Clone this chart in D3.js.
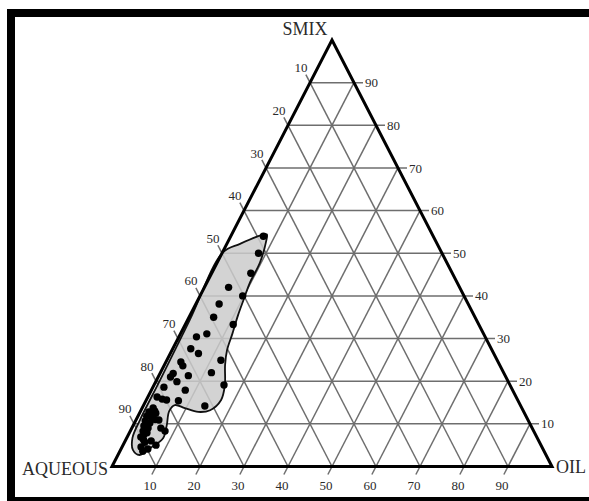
<!DOCTYPE html>
<html>
<head>
<meta charset="utf-8">
<script src="https://cdn.jsdelivr.net/npm/d3@7"></script>
<style>
  html, body { margin: 0; padding: 0; background: #fff; }
  text { font-family: "Liberation Serif", "Times New Roman", serif; }
</style>
</head>
<body>
<div id="chart"></div>
<script>
// ternary axis ticks (percent)
const ticks = [10, 20, 30, 40, 50, 60, 70, 80, 90];

// measured points: SMIX % and OIL %, aqueous is the rest
const pointSmix = [54.0, 50.0, 45.3, 42.0, 40.0, 38.1, 35.0, 33.3, 31.1, 30.4,
  27.6, 26.5, 24.9, 24.5, 23.6, 22.0, 21.8, 21.3, 21.0, 19.9,
  19.1, 18.6, 17.9, 16.3, 15.8, 15.6, 15.4, 14.2, 13.7, 12.8,
  12.5, 11.8, 11.4, 10.7, 10.2, 10.9, 9.5, 9.0, 8.3, 7.9,
  9.0, 8.3, 6.9, 6.0, 5.7, 4.6, 4.1, 5.0, 12.0, 10.0,
  8.6, 7.5, 6.3, 11.0, 13.0, 3.6];
const pointOil = [7.4, 8.3, 8.9, 5.5, 9.7, 5.3, 5.6, 10.9, 6.0, 4.0,
  4.1, 6.4, 12.3, 3.4, 4.3, 11.6, 3.0, 6.7, 2.8, 4.8,
  15.9, 2.5, 7.7, 2.1, 3.5, 4.6, 7.4, 14.0, 2.5, 2.0,
  3.7, 2.0, 3.4, 2.2, 3.5, 5.2, 2.5, 3.7, 2.9, 4.0,
  6.6, 7.9, 3.1, 5.9, 4.6, 4.3, 6.1, 7.5, 2.8, 2.6,
  3.3, 3.5, 4.0, 4.3, 3.2, 5.2];

// outline of the shaded region
const regionSmix = [50.2, 52.2, 54.3, 54.4, 52.9, 47.9, 43.0, 39.5, 35.5, 31.1,
  27.3, 23.8, 19.1, 15.6, 13.2, 12.8, 13.7, 14.4, 13.0, 9.7,
  6.7, 4.6, 2.7, 3.9, 6.7, 10.9, 20.3, 34.3];
const regionOil = [0.1, 3.0, 7.0, 8.0, 8.6, 9.7, 9.8, 10.3, 10.9, 11.8,
  12.5, 13.8, 16.1, 17.0, 15.7, 13.2, 9.7, 7.1, 6.5, 7.6,
  8.3, 6.8, 4.9, 2.8, 1.3, 0.9, 0.8, 0.5];

const W = 589, H = 501;
const left = 112, right = 552, base = 466.5, apex = 40;

const svg = d3.select("#chart").append("svg")
  .attr("width", W).attr("height", H);

// x from (oil + smix/2), y from smix
const x = d3.scaleLinear().domain([0, 100]).range([left, right]);
const y = d3.scaleLinear().domain([0, 100]).range([base, apex]);
const px = (s, o) => [x(o + s / 2), y(s)];

// frame
svg.append("rect").attr("x", 7).attr("y", 9).attr("width", W).attr("height", 8).attr("fill", "#000");
svg.append("rect").attr("x", 7).attr("y", 9).attr("width", 8).attr("height", H).attr("fill", "#000");
svg.append("rect").attr("x", 7).attr("y", 497).attr("width", W).attr("height", 8).attr("fill", "#000");

const gridColor = "#6e6e6e";
const tickLen = 9;
const grid = svg.append("g").attr("stroke", gridColor).attr("stroke-width", 1.5).attr("fill", "none");

// unit vectors for tick extensions
const dl = [x(50) - x(0), y(100) - y(0)];           // along left edge (up-right)
const nl = Math.hypot(dl[0], dl[1]);
const uL = [dl[0] / nl, dl[1] / nl];
const uR = [-uL[0], uL[1]];                          // along right edge (up-left)

ticks.forEach(t => {
  // constant SMIX: horizontal
  const a = px(t, 0), b = px(t, 100 - t);
  grid.append("line").attr("x1", a[0]).attr("y1", a[1]).attr("x2", b[0] + tickLen).attr("y2", b[1]);
  // constant OIL: parallel to left edge
  const c = px(0, t), d = px(100 - t, t);
  grid.append("line").attr("x1", c[0] - uL[0] * tickLen).attr("y1", c[1] - uL[1] * tickLen)
    .attr("x2", d[0]).attr("y2", d[1]);
  // constant AQUEOUS: parallel to right edge
  const aq = 100 - t;
  const e = px(0, aq), f = px(aq, 0);
  grid.append("line").attr("x1", e[0]).attr("y1", e[1])
    .attr("x2", f[0] + uR[0] * tickLen).attr("y2", f[1] + uR[1] * tickLen);
});

// shaded region
const region = regionSmix.map((s, i) => px(s, regionOil[i]));
svg.append("path")
  .attr("d", d3.line().curve(d3.curveCatmullRomClosed.alpha(0.5))(region))
  .attr("fill", "#cbcbcb").attr("fill-opacity", 0.85)
  .attr("stroke", "#111").attr("stroke-width", 1.8);

// triangle outline
const tri = [px(0, 0), px(100, 0), px(0, 100)];
svg.append("path")
  .attr("d", d3.line().curve(d3.curveLinearClosed)(tri))
  .attr("fill", "none").attr("stroke", "#000").attr("stroke-width", 3)
  .attr("stroke-linejoin", "miter");

// data points
svg.append("g").selectAll("circle")
  .data(pointSmix.map((s, i) => px(s, pointOil[i])))
  .join("circle")
    .attr("cx", d => d[0]).attr("cy", d => d[1])
    .attr("r", 3.7).attr("fill", "#000");

// tick labels
const lab = svg.append("g").attr("fill", "#2a2a2a").attr("font-size", 13);
ticks.forEach(t => {
  // right edge: SMIX
  const r = px(t, 100 - t);
  lab.append("text").attr("x", r[0] + tickLen + 2).attr("y", r[1]).attr("dy", "0.35em").text(t);
  // left edge: AQUEOUS
  const l = px(100 - t, 0);
  lab.append("text").attr("x", l[0] - 9).attr("y", l[1] - 15).attr("dy", "0.35em")
    .attr("text-anchor", "middle").text(t);
  // bottom: OIL
  const bt = px(0, t);
  lab.append("text").attr("x", bt[0] - 6).attr("y", bt[1] + 19).attr("dy", "0.35em")
    .attr("text-anchor", "middle").text(t);
});

// vertex labels
const vlab = svg.append("g").attr("fill", "#2a2a2a").attr("font-size", 18);
vlab.append("text").attr("x", x(50) - 27).attr("y", 35).attr("text-anchor", "middle").text("SMIX");
vlab.append("text").attr("x", left - 4).attr("y", 475).attr("text-anchor", "end").text("AQUEOUS");
vlab.append("text").attr("x", right + 4).attr("y", 473).attr("text-anchor", "start").text("OIL");
</script>
</body>
</html>
